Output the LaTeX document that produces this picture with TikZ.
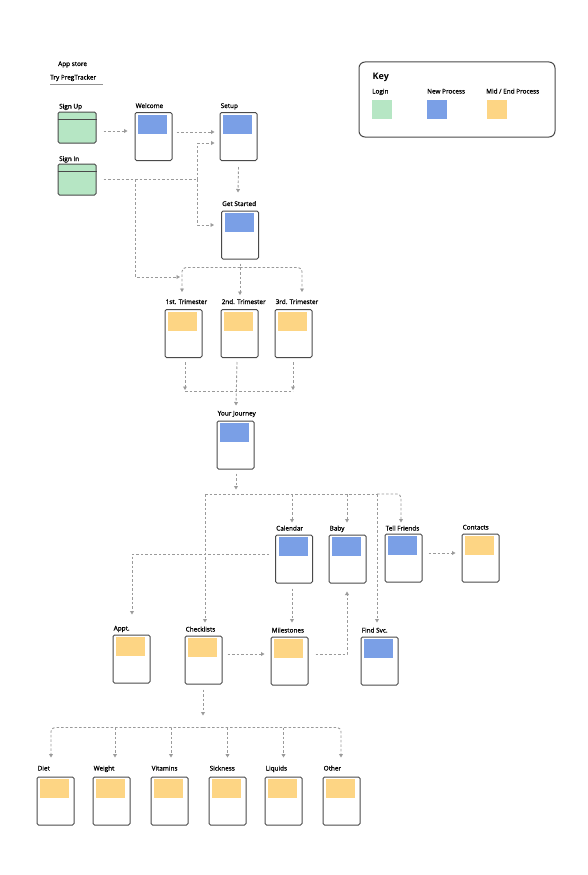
\documentclass[tikz,border=0pt]{standalone}
\usepackage{fontspec}
\setmainfont{Open Sans}
\newfontfamily\labfont{Open Sans}[FakeBold=1]
\usetikzlibrary{arrows.meta,calc}
\definecolor{lgreen}{HTML}{B6E6C4}
\definecolor{lblue}{HTML}{7A9FE6}
\definecolor{lyellow}{HTML}{FDD584}
\definecolor{bord}{HTML}{4A4A4A}
\definecolor{conn}{HTML}{9A9A9A}
\tikzset{
  screenbox/.style={draw=bord, line width=1pt, rounded corners=1.5pt, fill=white, minimum width=37pt, minimum height=48pt, inner sep=0pt},
  loginbox/.style={draw=bord, line width=1pt, rounded corners=1.5pt, fill=lgreen, minimum width=38pt, minimum height=31pt, inner sep=0pt},
  lab/.style={font=\labfont\fontsize{6.4}{7.5}\selectfont, text=black, inner sep=0pt},
  arr/.style={draw=conn, line width=0.9pt, dash pattern=on 2.5pt off 2pt, -{Triangle[length=3.5pt,width=3.8pt,fill=conn]}},
  ln/.style={draw=conn, line width=0.9pt, dash pattern=on 2.5pt off 2pt},
}
\newcommand{\scr}[6]{% name, cx, cy, color, label, label-dy
  \node[screenbox] (#1) at (#2,#3) {};
  \fill[#4] ($(#1.north west)+(3.5,2.5)$) rectangle ++(29,19);
  \node[lab, anchor=base west] (#1-l) at ($(#1.north west)+(1,#6)$) {#5};
}
\begin{document}
\begin{tikzpicture}[x=1pt,y=-1pt]
\useasboundingbox (0,0) rectangle (587,875);
\fill[white] (0,0) rectangle (587,875);

% header
\node[lab, anchor=base west] (appstore) at (58,66) {App store};
\node[lab, anchor=base west] (try) at (50,79.5) {Try PregTracker};
\draw[bord!60, line width=0.9pt] (50,84) -- (103,84);

% key
\node[draw=bord, line width=1pt, rounded corners=6pt, minimum width=196pt, minimum height=75pt, inner sep=0pt] (key) at (457,99.5) {};
\node[font=\bfseries\fontsize{9}{10}\selectfont, anchor=base west, inner sep=0pt] (keyt) at (372.5,79.5) {Key};
\node[lab, anchor=base west] (kl1) at (372,93.5) {Login};
\node[lab, anchor=base west] (kl2) at (427,93.5) {New Process};
\node[lab, anchor=base west] (kl3) at (486,93.5) {Mid / End Process};
\node[fill=lgreen, minimum width=20pt, minimum height=19pt, inner sep=0pt] (ks1) at (382,109.5) {};
\node[fill=lblue, minimum width=20pt, minimum height=19pt, inner sep=0pt] (ks2) at (437,109.5) {};
\node[fill=lyellow, minimum width=20pt, minimum height=19pt, inner sep=0pt] (ks3) at (497,109.5) {};

% login boxes
\node[loginbox] (signup) at (77,127.5) {};
\draw[bord, line width=1pt] ($(signup.north west)+(0,8)$) -- ($(signup.north east)+(0,8)$);
\node[lab, anchor=base west] (signup-l) at (59,108.5) {Sign Up};
\node[loginbox] (signin) at (77,179.5) {};
\draw[bord, line width=1pt] ($(signin.north west)+(0,8)$) -- ($(signin.north east)+(0,8)$);
\node[lab, anchor=base west] (signin-l) at (59,161) {Sign In};

% screens
\scr{welcome}{153.5}{136.5}{lblue}{Welcome}{-4}
\scr{setup}{238.5}{136.5}{lblue}{Setup}{-4}
\scr{getstarted}{240}{235}{lblue}{Get Started}{-4.5}
\scr{t1}{183.5}{333.5}{lyellow}{1st. Trimester}{-5}
\scr{t2}{239.5}{333.5}{lyellow}{2nd. Trimester}{-5}
\scr{t3}{293.5}{333.5}{lyellow}{3rd. Trimester}{-5}
\scr{journey}{235.5}{445}{lblue}{Your Journey}{-5}
\scr{calendar}{294}{559}{lblue}{Calendar}{-4}
\scr{baby}{347.5}{559}{lblue}{Baby}{-4}
\scr{tell}{403.5}{558}{lblue}{Tell Friends}{-3}
\scr{contacts}{480.5}{558}{lyellow}{Contacts}{-4}
\scr{appt}{131.5}{659}{lyellow}{Appt.}{-4}
\scr{checklists}{203.5}{660}{lyellow}{Checklists}{-4}
\scr{milestones}{289.5}{661}{lyellow}{Milestones}{-4}
\scr{findsvc}{379.5}{661}{lblue}{Find Svc.}{-4}
\scr{diet}{55.5}{801}{lyellow}{Diet}{-6}
\scr{weight}{111.5}{801}{lyellow}{Weight}{-6}
\scr{vitamins}{169.5}{801}{lyellow}{Vitamins}{-6}
\scr{sickness}{227.5}{801}{lyellow}{Sickness}{-6}
\scr{liquids}{283.5}{801}{lyellow}{Liquids}{-6}
\scr{other}{341.5}{801}{lyellow}{Other}{-6}

% connectors
\draw[arr, shorten >=7pt] ($(signup.east)+(7,3.5)$) coordinate (a1) -- (a1 -| welcome.west);
\draw[arr, shorten >=5pt] ($(welcome.east)+(4,-4.5)$) coordinate (a2) -- (a2 -| setup.west);
% sign in
\coordinate (sj) at ($(signin.east)+(101,0)$);
\coordinate (sk) at ($(signin.east)+(39,0)$);
\draw[ln] ($(signin.east)+(7,0)$) -- (sj);
\draw[arr, shorten >=5pt] (sj) |- ($(setup.west)+(0,6.5)$);
\draw[arr, shorten >=7pt] (sj) |- ($(getstarted.west)+(0,-10)$);
\draw[arr] (sk) |- ($(t1.north)+(-3.5,-32)$);
% setup -> get started
\draw[arr] ($(setup.south)+(0,6)$) -- ($(getstarted.north)+(-2,-18)$);
% get started -> trimesters
\coordinate (gb) at ($(getstarted.south)+(0,8)$);
\draw[ln] ($(getstarted.south)+(0,4)$) -- (gb);
\draw[arr] (gb) -- ($(t2.north)+(0.5,-14)$);
\draw[arr, rounded corners=4pt] (gb) -| ($(t1.north)+(-1.5,-17)$);
\draw[arr, rounded corners=4pt] (gb) -| ($(t3.north)+(8.5,-17)$);
% trimesters -> journey
\draw[arr] ($(t1.south)+(1.5,4)$) -- ($(t1.south)+(1.5,32)$);
\draw[arr] ($(t3.south)+(-0.5,4)$) -- ($(t3.south)+(-0.5,32)$);
\draw[ln] ($(t1.south)+(1.5,33)$) -- ($(t3.south)+(-0.5,33)$);
\draw[arr] ($(t2.south)+(-2.5,4)$) -- ($(journey.north)+(0.5,-15)$);
% journey -> branch
\draw[arr] ($(journey.south)+(0.5,4)$) -- ($(journey.south)+(0.5,20)$);
\coordinate (br) at (205,494);
\coordinate (bf) at (377,494);
\draw[ln] (br) -- (bf);
\draw[arr] (br) -- ($(checklists.north)+(1.5,-13)$);
\draw[arr] (calendar.north |- br) ++(-2,0) -- ($(calendar.north)+(-2,-12)$);
\draw[arr] (baby.north |- br) ++(-0.5,0) -- ($(baby.north)+(-0.5,-12)$);
\draw[arr, rounded corners=4pt] (bf) -| ($(tell.north)+(-2.5,-11)$);
\draw[arr] (bf) -- ($(findsvc.north)+(-2.5,-14)$);
% calendar -> appt
\draw[arr] ($(calendar.west)+(-6,-5)$) -| ($(appt.north)+(0.5,-20)$);
% calendar -> milestones
\draw[arr] ($(calendar.south)+(-2,5)$) -- ($(milestones.north)+(2.5,-14)$);
% checklists -> milestones
\draw[arr, shorten >=6pt] ($(checklists.east)+(5,-6)$) coordinate (c9) -- (c9 -| milestones.west);
% milestones -> baby
\draw[arr] ($(milestones.east)+(7,-7)$) -| ($(baby.south)+(-0.5,8)$);
% tell -> contacts
\draw[arr, shorten >=6pt] ($(tell.east)+(6,-5)$) coordinate (c11) -- (c11 -| contacts.west);
% checklists -> bottom row
\coordinate (cb) at ($(checklists.south)+(-0.5,43)$);
\draw[arr] ($(checklists.south)+(-0.5,5)$) -- ($(checklists.south)+(-0.5,31)$);
\draw[arr, rounded corners=4pt] (cb) -| ($(diet.north)+(-4.5,-19)$);
\draw[arr, rounded corners=4pt] (cb) -| ($(other.north)+(-0.5,-19)$);
\draw[arr] (cb -| weight.north) ++(3.5,0) -- ($(weight.north)+(3.5,-19)$);
\draw[arr] (cb -| vitamins.north) ++(1.5,0) -- ($(vitamins.north)+(1.5,-19)$);
\draw[arr] (cb -| sickness.north) -- ($(sickness.north)+(0,-19)$);
\draw[arr] (cb -| liquids.north) -- ($(liquids.north)+(0,-19)$);
\end{tikzpicture}
\end{document}
